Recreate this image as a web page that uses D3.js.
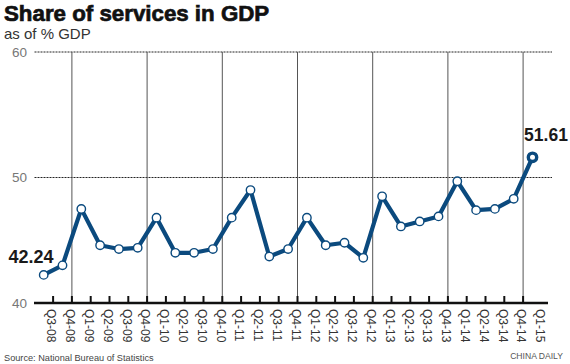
<!DOCTYPE html>
<html><head><meta charset="utf-8">
<script src="https://cdn.jsdelivr.net/npm/d3@7"></script>
<style>
html,body{margin:0;padding:0;background:#fff;}
svg{display:block;font-family:"Liberation Sans",Arial,sans-serif;}
</style></head>
<body><svg id="c" width="570" height="364"></svg>
<script>
const quarters = ["Q3-08","Q4-08","Q1-09","Q2-09","Q3-09","Q4-09","Q1-10","Q2-10","Q3-10","Q4-10",
  "Q1-11","Q2-11","Q3-11","Q4-11","Q1-12","Q2-12","Q3-12","Q4-12","Q1-13","Q2-13","Q3-13","Q4-13",
  "Q1-14","Q2-14","Q3-14","Q4-14","Q1-15"];
const values = [42.24,43.0,47.5,44.6,44.3,44.4,46.8,44.0,44.0,44.3,
  46.8,49.0,43.7,44.3,46.8,44.6,44.8,43.6,48.5,46.1,46.5,46.9,
  49.7,47.4,47.5,48.3,51.61];
const yTicks = [40,50,60];
const title = "Share of services in GDP";
const subtitle = "as of % GDP";
const source = "Source: National Bureau of Statistics";
const credit = "CHINA DAILY";

const svg = d3.select("#c");
const blue = "#0b4a7e";
const x = d3.scaleBand().domain(quarters).range([34.3, 541.9]).paddingInner(0).paddingOuter(0);
const y = d3.scaleLinear().domain([40,60]).range([303,52]);
const cx = q => x(q) + x.bandwidth()/2;

// titles
svg.append("text").attr("x",4).attr("y",21).text(title)
  .attr("font-size","22.3px").attr("font-weight","bold").attr("fill","#111")
  .attr("stroke","#111").attr("stroke-width",0.7);
svg.append("text").attr("x",4).attr("y",39).text(subtitle)
  .attr("font-size","15px").attr("fill","#333");

// horizontal gridlines
svg.append("g").selectAll("line").data(yTicks.filter(d=>d>40)).join("line")
  .attr("x1",34.5).attr("x2",552).attr("y1",d=>y(d)).attr("y2",d=>y(d))
  .attr("stroke","#222").attr("stroke-width",1).attr("stroke-dasharray","2,1");
// y labels
svg.append("g").selectAll("text").data(yTicks).join("text")
  .attr("x",27).attr("y",d=>y(d)).attr("dy","0.35em").attr("text-anchor","end")
  .attr("font-size","13.5px").attr("fill","#777").text(d=>d);

// vertical year lines
const yearStarts = quarters.filter(q=>q.startsWith("Q1"));
svg.append("g").selectAll("line").data(yearStarts).join("line")
  .attr("x1",d=>x(d)).attr("x2",d=>x(d)).attr("y1",y(60)).attr("y2",y(40))
  .attr("stroke","#555").attr("stroke-width",1);

// x axis line and ticks
svg.append("line").attr("x1",34).attr("x2",548).attr("y1",y(40)).attr("y2",y(40))
  .attr("stroke","#111").attr("stroke-width",2.6);
svg.append("g").selectAll("line").data(quarters.slice(1)).join("line")
  .attr("x1",d=>x(d)).attr("x2",d=>x(d)).attr("y1",y(40)).attr("y2",y(40)-7)
  .attr("stroke","#111").attr("stroke-width",2);
// x labels
svg.append("g").selectAll("text").data(quarters).join("text")
  .attr("transform",d=>`translate(${cx(d)+3.6},${y(40)+6}) rotate(90)`)
  .attr("font-size","12px").attr("fill","#333").text(d=>d);

// line
const data = quarters.map((q,i)=>({q,v:values[i]}));
svg.append("path").datum(data)
  .attr("d", d3.line().x(d=>cx(d.q)).y(d=>y(d.v)))
  .attr("fill","none").attr("stroke",blue).attr("stroke-width",4.2).attr("stroke-linejoin","round");
svg.append("g").selectAll("circle").data(data.slice(0,-1)).join("circle")
  .attr("cx",d=>cx(d.q)).attr("cy",d=>y(d.v)).attr("r",4.2)
  .attr("fill","#fff").attr("stroke",blue).attr("stroke-width",1.4);
const last = data[data.length-1], first = data[0];
svg.append("circle").attr("cx",cx(last.q)).attr("cy",y(last.v)).attr("r",4.2)
  .attr("fill","#fff").attr("stroke",blue).attr("stroke-width",3.4);

// value labels
svg.append("text").attr("x",cx(first.q)+9.8).attr("y",y(first.v)-11.5).attr("text-anchor","end")
  .attr("font-size","18px").attr("font-weight","bold").attr("fill","#1a1a1a").text(first.v.toFixed(2));
svg.append("text").attr("x",cx(last.q)+13.5).attr("y",y(last.v)-16.5).attr("text-anchor","middle")
  .attr("font-size","17.5px").attr("font-weight","bold").attr("fill","#1a1a1a").text(last.v.toFixed(2));

// footer
svg.append("text").attr("x",4).attr("y",360.5).attr("font-size","9.2px").attr("fill","#444").text(source);
svg.append("text").attr("x",563).attr("y",359).attr("text-anchor","end").attr("font-size","8.6px").attr("fill","#555").text(credit);
</script></body></html>
